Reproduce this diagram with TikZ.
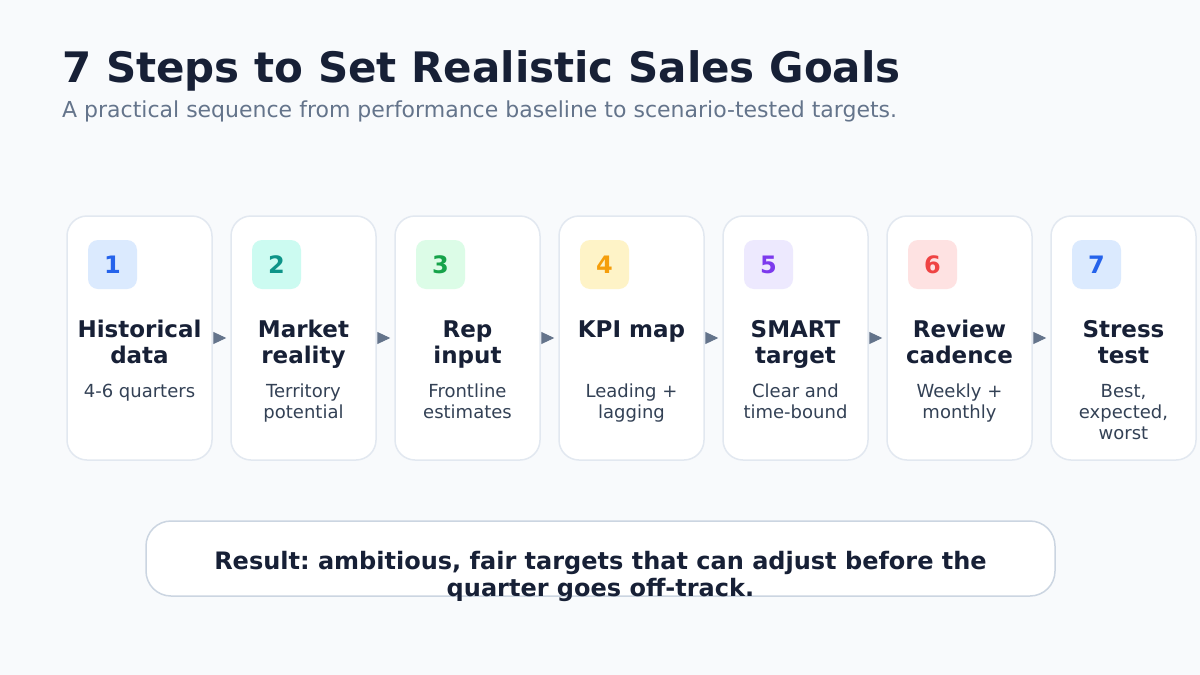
\documentclass[tikz,border=0pt]{standalone}
\usepackage{fontspec}
\setmainfont{DejaVu Sans}
\usetikzlibrary{arrows.meta,positioning}
\frenchspacing

\definecolor{pagebg}{HTML}{F8FAFC}
\definecolor{ink}{HTML}{172036}
\definecolor{subink}{HTML}{64748B}
\definecolor{bodyink}{HTML}{334155}
\definecolor{cardline}{HTML}{E2E8F0}
\definecolor{resultline}{HTML}{CBD5E1}
\definecolor{arrowc}{HTML}{64748B}
\definecolor{blueBg}{HTML}{DBEAFE}\definecolor{blueFg}{HTML}{2563EB}
\definecolor{tealBg}{HTML}{CCFBF1}\definecolor{tealFg}{HTML}{0D9488}
\definecolor{greenBg}{HTML}{DCFCE7}\definecolor{greenFg}{HTML}{16A34A}
\definecolor{amberBg}{HTML}{FEF3C7}\definecolor{amberFg}{HTML}{F59E0B}
\definecolor{violetBg}{HTML}{EDE9FE}\definecolor{violetFg}{HTML}{7C3AED}
\definecolor{redBg}{HTML}{FEE2E2}\definecolor{redFg}{HTML}{EF4444}

\begin{document}
\begin{tikzpicture}[x=1pt,y=-1pt,
	card/.style={draw=cardline, line width=1.5pt, fill=white, rounded corners=20pt, minimum width=145pt, minimum height=244pt},
	badge/.style={rounded corners=10pt, minimum width=49pt, minimum height=49pt, inner sep=0pt, font=\fontsize{24}{28}\selectfont\bfseries},
	steptitle/.style={anchor=north, align=center, inner sep=0pt, text=ink, font=\fontsize{23}{26}\selectfont\bfseries},
	stepnote/.style={anchor=north, align=center, inner sep=0pt, text=bodyink, font=\fontsize{18}{21}\selectfont},
	flowarrow/.style={draw=arrowc, line width=1pt, shorten <=2pt, shorten >=4pt, -{Triangle[length=13pt,width=12pt]}}]
	\fill[pagebg] (0,0) rectangle (1200,675);
	\useasboundingbox (0,0) rectangle (1200,675);

	% Heading
	\node[anchor=base west, inner sep=0pt, text=ink, font=\fontsize{42}{50}\selectfont\bfseries] (title) at (62,82) {7 Steps to Set Realistic Sales Goals};
	\node[anchor=base west, inner sep=0pt, text=subink, font=\fontsize{22}{26}\selectfont] (subtitle) at (62,117) {A practical sequence from performance baseline to scenario-tested targets.};

	% Draw the step cards
	\foreach \i/\bg/\fg/\ttl/\sub in {
		1/blueBg/blueFg/{Historical\\data}/{4-6 quarters},
		2/tealBg/tealFg/{Market\\reality}/{Territory\\potential},
		3/greenBg/greenFg/{Rep\\input}/{Frontline\\estimates},
		4/amberBg/amberFg/{KPI map}/{Leading +\\lagging},
		5/violetBg/violetFg/{SMART\\target}/{Clear and\\time-bound},
		6/redBg/redFg/{Review\\cadence}/{Weekly +\\monthly},
		7/blueBg/blueFg/{Stress\\test}/{Best,\\expected,\\worst}}{
		\pgfmathsetmacro\cx{139.5+164*(\i-1)}
		\node[card] (card-\i) at (\cx,338) {};
		\node[badge, fill=\bg, text=\fg] (badge-\i) at (\cx-27,264.5) {\i};
		\node[steptitle] (title-\i) at (\cx,319.2) {\strut\ttl};
		\node[stepnote] (note-\i) at (\cx,382.5) {\strut\sub};
	}
	\foreach \i [evaluate=\i as \j using int(\i+1)] in {1,...,6}
		\draw[flowarrow] (card-\i.east) -- (card-\j.west);

	% Result banner
	\node[draw=resultline, line width=1.5pt, fill=white, rounded corners=25pt, minimum width=909pt, minimum height=75pt] (result) at (600.5,558.5) {};
	\node[anchor=north, align=center, inner sep=0pt, text=ink, font=\fontsize{24}{26}\selectfont\bfseries] (result-text) at ([yshift=7pt]result.center) {\strut Result: ambitious, fair targets that can adjust before the\\quarter goes off-track.};
\end{tikzpicture}
\end{document}
